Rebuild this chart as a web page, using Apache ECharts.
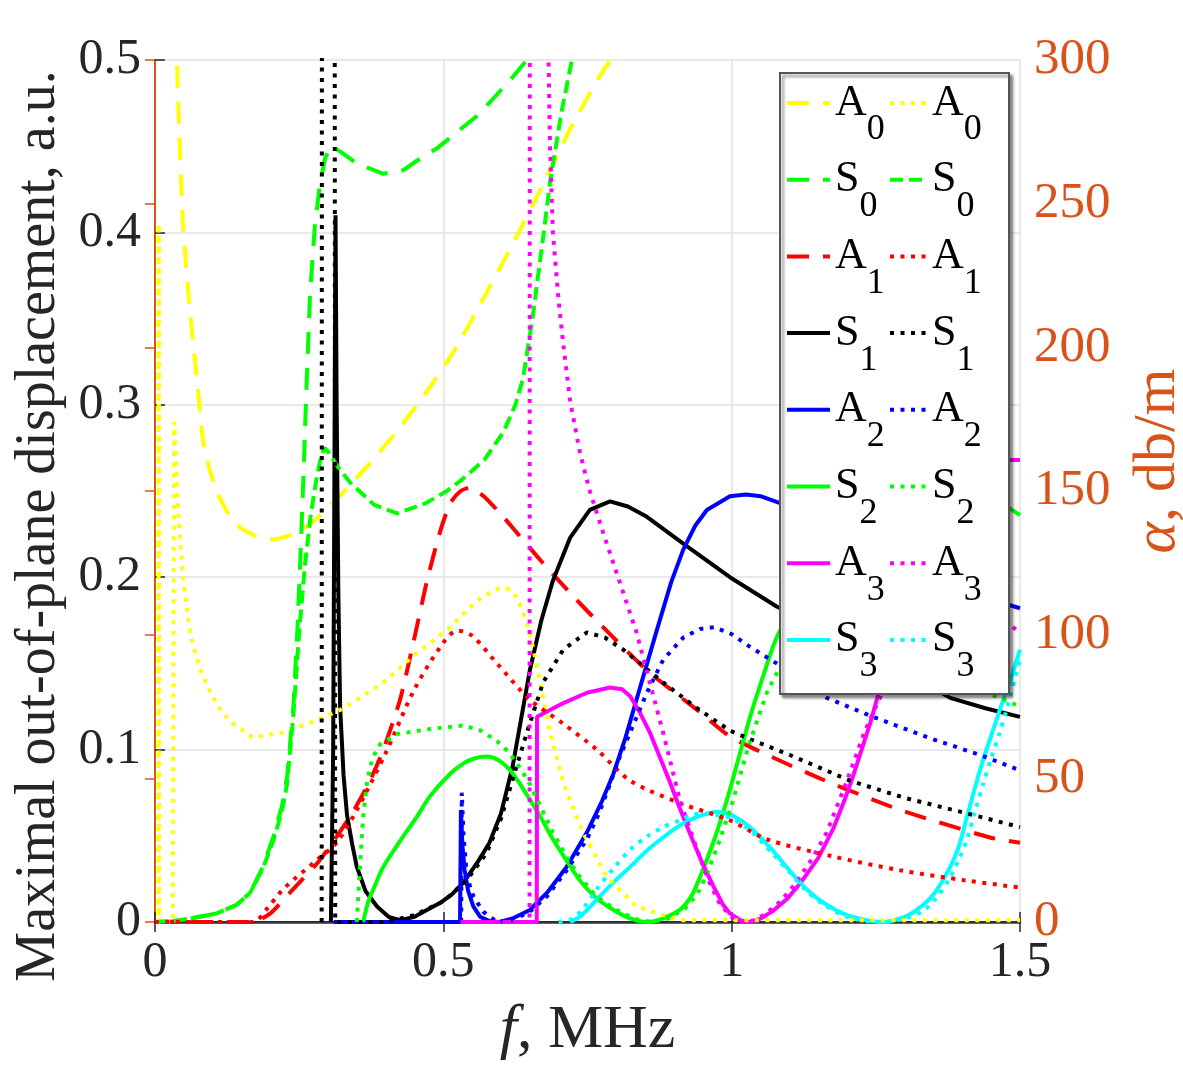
<!DOCTYPE html>
<html><head><meta charset="utf-8">
<script src="https://cdn.jsdelivr.net/npm/echarts@6/dist/echarts.min.js"></script>
<style>html,body{margin:0;padding:0;background:#fff}#c{width:1183px;height:1070px}</style>
</head><body><div id="c"></div>
<script>
const xTickLabels = ['0','0.5','1','1.5'];
const yLeftTickLabels = ['0','0.1','0.2','0.3','0.4','0.5'];
const yRightTickLabels = ['0','50','100','150','200','250','300'];

const legendLeft = ['A0','S0','A1','S1','A2','S2','A3','S3'];
const legendRight = ['A0 ','S0 ','A1 ','S1 ','A2 ','S2 ','A3 ','S3 '];

const A0_dash = [[0.033,0.58],[0.038,0.5],[0.0485,0.405],[0.061,0.353],[0.073,0.314],[0.083,0.28],[0.095,0.262],[0.107,0.25],[0.125,0.238],[0.147,0.229],[0.175,0.224],[0.205,0.222],[0.24,0.225],[0.27,0.231],[0.32,0.247],[0.37,0.265],[0.42,0.285],[0.47,0.307],[0.52,0.332],[0.57,0.362],[0.62,0.393],[0.67,0.426],[0.72,0.46],[0.77,0.49],[0.79,0.5],[0.82,0.52]];
const S0_dash = [[0,0],[0.03,0.0005],[0.061,0.002],[0.107,0.005],[0.142,0.01],[0.165,0.017],[0.187,0.032],[0.205,0.049],[0.22,0.067],[0.229,0.084],[0.24,0.125],[0.247,0.17],[0.252,0.21],[0.257,0.255],[0.263,0.313],[0.269,0.365],[0.277,0.403],[0.286,0.428],[0.295,0.443],[0.305,0.45],[0.321,0.447],[0.35,0.44],[0.396,0.434],[0.43,0.436],[0.456,0.442],[0.49,0.449],[0.523,0.458],[0.56,0.468],[0.593,0.48],[0.62,0.49],[0.645,0.5],[0.67,0.51]];
const A1_dash = [[0,0],[0.17,0],[0.2,0.005],[0.234,0.017],[0.286,0.036],[0.338,0.061],[0.37,0.08],[0.396,0.1],[0.425,0.129],[0.448,0.162],[0.471,0.197],[0.494,0.226],[0.512,0.243],[0.53,0.25],[0.546,0.252],[0.57,0.247],[0.604,0.235],[0.668,0.21],[0.725,0.189],[0.777,0.171],[0.853,0.146],[0.94,0.123],[1.0,0.107],[1.148,0.084],[1.292,0.065],[1.448,0.049],[1.5,0.046]];
const S1_solid = [[0.305,0],[0.309,0.1],[0.311,0.25],[0.313,0.41],[0.315,0.3],[0.318,0.19],[0.321,0.125],[0.327,0.085],[0.333,0.062],[0.342,0.045],[0.35,0.032],[0.365,0.018],[0.385,0.009],[0.405,0.003],[0.425,0.001],[0.45,0.003],[0.477,0.008],[0.494,0.011],[0.515,0.016],[0.535,0.023],[0.56,0.035],[0.58,0.046],[0.6,0.063],[0.62,0.09],[0.635,0.118],[0.65,0.146],[0.67,0.175],[0.69,0.198],[0.72,0.223],[0.754,0.239],[0.789,0.244],[0.82,0.241],[0.853,0.235],[0.922,0.218],[0.997,0.2],[1.078,0.183],[1.2,0.162],[1.3,0.145],[1.379,0.13],[1.44,0.124],[1.5,0.119]];
const A2_solid = [[0.31,0],[0.529,0],[0.5305,0.065],[0.533,0.045],[0.537,0.03],[0.543,0.018],[0.552,0.009],[0.564,0.003],[0.58,0.0005],[0.598,0],[0.62,0.002],[0.65,0.007],[0.68,0.017],[0.714,0.032],[0.749,0.052],[0.775,0.07],[0.795,0.086],[0.815,0.106],[0.835,0.129],[0.87,0.169],[0.895,0.197],[0.916,0.216],[0.937,0.23],[0.957,0.239],[0.997,0.247],[1.025,0.248],[1.05,0.247],[1.084,0.243],[1.2,0.224],[1.3,0.206],[1.4,0.193],[1.45,0.187],[1.5,0.182]];
const S2_solid = [[0.361,0],[0.37,0.012],[0.38,0.02],[0.396,0.032],[0.425,0.047],[0.454,0.061],[0.477,0.073],[0.512,0.086],[0.535,0.092],[0.555,0.095],[0.575,0.096],[0.595,0.094],[0.616,0.088],[0.633,0.08],[0.65,0.071],[0.67,0.06],[0.69,0.048],[0.715,0.035],[0.737,0.024],[0.765,0.014],[0.795,0.007],[0.825,0.002],[0.853,0],[0.88,0.002],[0.91,0.007],[0.93,0.015],[0.945,0.026],[0.97,0.048],[0.992,0.071],[1.012,0.095],[1.032,0.119],[1.055,0.143],[1.078,0.165],[1.15,0.21],[1.25,0.245],[1.35,0.258],[1.43,0.25],[1.5,0.236]];
const A3_solid = [[0.53,0],[0.662,0],[0.6625,0.119],[0.685,0.123],[0.708,0.127],[0.749,0.133],[0.789,0.136],[0.81,0.135],[0.824,0.131],[0.84,0.122],[0.858,0.11],[0.875,0.096],[0.893,0.081],[0.91,0.066],[0.928,0.051],[0.948,0.035],[0.968,0.021],[0.985,0.01],[0.997,0.005],[1.015,0.001],[1.032,0],[1.05,0.002],[1.07,0.006],[1.095,0.013],[1.118,0.022],[1.15,0.037],[1.176,0.054],[1.195,0.07],[1.21,0.084],[1.24,0.115],[1.26,0.139],[1.3,0.19],[1.35,0.235],[1.4,0.258],[1.45,0.268],[1.5,0.268]];
const S3_solid = [[0.72,0],[0.74,0.004],[0.766,0.013],[0.795,0.023],[0.824,0.032],[0.855,0.042],[0.881,0.049],[0.91,0.056],[0.94,0.061],[0.96,0.063],[0.975,0.064],[1.0,0.062],[1.032,0.055],[1.07,0.042],[1.1,0.03],[1.13,0.019],[1.16,0.011],[1.2,0.004],[1.263,0],[1.3,0.003],[1.321,0.007],[1.35,0.016],[1.379,0.032],[1.395,0.045],[1.408,0.061],[1.422,0.078],[1.436,0.094],[1.45,0.108],[1.465,0.123],[1.485,0.142],[1.5,0.158]];

const A0_dot = [[0,0],[0.006,0],[0.0065,0.405],[0.007,0],[0.031,0],[0.033,0.29],[0.036,0.27],[0.04,0.24],[0.045,0.215],[0.05,0.196],[0.058,0.175],[0.066,0.16],[0.08,0.145],[0.095,0.134],[0.115,0.122],[0.135,0.115],[0.17,0.107],[0.222,0.11],[0.281,0.117],[0.321,0.123],[0.36,0.131],[0.396,0.139],[0.454,0.156],[0.512,0.171],[0.535,0.179],[0.565,0.188],[0.598,0.194],[0.615,0.193],[0.628,0.188],[0.64,0.178],[0.65,0.168],[0.668,0.139],[0.685,0.11],[0.708,0.081],[0.742,0.052],[0.784,0.026],[0.835,0.009],[0.91,0.001],[1.5,0.001]];
const S0_dashdot = [[0,0],[0.03,0.0005],[0.061,0.002],[0.107,0.005],[0.142,0.01],[0.165,0.017],[0.187,0.031],[0.205,0.047],[0.22,0.064],[0.229,0.08],[0.24,0.12],[0.25,0.168],[0.26,0.207],[0.27,0.236],[0.28,0.257],[0.288,0.27],[0.294,0.275],[0.30,0.273],[0.315,0.265],[0.338,0.255],[0.38,0.242],[0.42,0.237],[0.47,0.243],[0.506,0.25],[0.53,0.256],[0.571,0.268],[0.604,0.284],[0.625,0.3],[0.638,0.315],[0.655,0.351],[0.673,0.397],[0.685,0.429],[0.705,0.47],[0.723,0.5],[0.74,0.53]];
const A1_dot = [[0,0],[0.17,0],[0.195,0.008],[0.222,0.019],[0.281,0.036],[0.315,0.046],[0.35,0.065],[0.4,0.098],[0.45,0.135],[0.5,0.162],[0.524,0.169],[0.55,0.166],[0.593,0.15],[0.65,0.129],[0.708,0.115],[0.766,0.1],[0.824,0.082],[0.91,0.069],[0.997,0.059],[1.061,0.048],[1.176,0.038],[1.292,0.03],[1.408,0.024],[1.5,0.02]];
const S1_dot = [[0.289,0],[0.2895,0.62],[0.3115,0.62],[0.3125,0],[0.4,0],[0.45,0.004],[0.5,0.012],[0.54,0.024],[0.575,0.04],[0.6,0.06],[0.625,0.088],[0.645,0.11],[0.673,0.139],[0.708,0.158],[0.749,0.168],[0.78,0.165],[0.812,0.158],[0.881,0.139],[0.94,0.124],[0.997,0.111],[1.032,0.106],[1.1,0.097],[1.205,0.082],[1.3,0.072],[1.408,0.063],[1.5,0.055]];
const A2_dot = [[0.531,0],[0.532,0.075],[0.535,0.05],[0.54,0.03],[0.546,0.021],[0.552,0.015],[0.569,0.006],[0.593,0],[0.62,0.001],[0.65,0.006],[0.68,0.015],[0.714,0.03],[0.749,0.048],[0.77,0.063],[0.789,0.08],[0.805,0.095],[0.824,0.11],[0.853,0.133],[0.881,0.152],[0.916,0.165],[0.945,0.17],[0.97,0.171],[1.0,0.167],[1.03,0.16],[1.078,0.15],[1.165,0.13],[1.245,0.119],[1.349,0.106],[1.43,0.097],[1.5,0.088]];
const S2_dot = [[0.35,0],[0.355,0.03],[0.361,0.061],[0.368,0.082],[0.377,0.095],[0.39,0.103],[0.42,0.109],[0.477,0.112],[0.535,0.114],[0.565,0.111],[0.593,0.105],[0.612,0.099],[0.628,0.092],[0.65,0.08],[0.67,0.066],[0.69,0.052],[0.715,0.037],[0.737,0.026],[0.765,0.015],[0.795,0.008],[0.83,0.002],[0.86,0],[0.89,0.002],[0.92,0.008],[0.94,0.016],[0.955,0.026],[0.98,0.048],[1.002,0.07],[1.03,0.103],[1.061,0.133],[1.09,0.152],[1.15,0.17],[1.22,0.176],[1.3,0.168],[1.4,0.145],[1.45,0.132],[1.5,0.125]];
const A3_dot = [[0.53,0],[0.6495,0],[0.65,0.62],[0.681,0.62],[0.6815,0.52],[0.685,0.45],[0.69,0.4],[0.70,0.36],[0.708,0.335],[0.72,0.302],[0.737,0.272],[0.754,0.25],[0.777,0.226],[0.806,0.197],[0.835,0.168],[0.858,0.139],[0.881,0.11],[0.91,0.071],[0.94,0.042],[0.96,0.024],[0.98,0.01],[1.0,0.003],[1.02,0],[1.04,0.001],[1.06,0.005],[1.085,0.012],[1.11,0.022],[1.14,0.037],[1.165,0.052],[1.2,0.082],[1.23,0.11],[1.257,0.13],[1.3,0.165],[1.35,0.185],[1.4,0.188],[1.45,0.18],[1.5,0.168]];
const S3_dot = [[0.70,0],[0.725,0.002],[0.745,0.009],[0.766,0.019],[0.795,0.031],[0.824,0.042],[0.855,0.05],[0.881,0.055],[0.91,0.059],[0.93,0.062],[0.95,0.063],[0.975,0.062],[1.0,0.06],[1.032,0.053],[1.07,0.04],[1.1,0.029],[1.13,0.018],[1.16,0.01],[1.2,0.003],[1.26,0],[1.3,0.002],[1.33,0.006],[1.355,0.014],[1.379,0.026],[1.395,0.037],[1.408,0.048],[1.422,0.064],[1.436,0.08],[1.45,0.095],[1.465,0.11],[1.485,0.133],[1.5,0.152]];

const YEL='#FFFF00', GRN='#00FF00', RED='#FF0000', BLK='#000000', BLU='#0000FF', MAG='#FF00FF', CYN='#00FFFF';
const DASH=[22,14], DOT=[4,6.5], DASH2=[13,6], SOLID='solid';
const ORANGE='#D95319', AX='#262626', SERIF='"Liberation Serif","Times New Roman",serif';

const defs = [
  ['A0', A0_dash, YEL, DASH, 0.2],
  ['S0', S0_dash, GRN, DASH, 0],
  ['A1', A1_dash, RED, DASH, 0.2],
  ['S1', S1_solid, BLK, SOLID, 0],
  ['A2', A2_solid, BLU, SOLID, 0],
  ['S2', S2_solid, GRN, SOLID, 0.3],
  ['A3', A3_solid, MAG, SOLID, 0],
  ['S3', S3_solid, CYN, SOLID, 0.3],
  ['A0 ', A0_dot, YEL, DOT, 0],
  ['S0 ', S0_dashdot, GRN, DASH2, 0],
  ['A1 ', A1_dot, RED, DOT, 0.3],
  ['S1 ', S1_dot, BLK, DOT, 0],
  ['A2 ', A2_dot, BLU, DOT, 0],
  ['S2 ', S2_dot, GRN, DOT, 0],
  ['A3 ', A3_dot, MAG, DOT, 0],
  ['S3 ', S3_dot, CYN, DOT, 0.3]
];

const series = defs.map(d => ({
  name: d[0], type: 'line', data: d[1], xAxisIndex: 0, yAxisIndex: 0,
  symbol: 'none', showSymbol: false, smooth: d[4] > 0 ? d[4] : false, clip: true,
  color: d[2],
  lineStyle: { color: d[2], width: 4, type: d[3], cap: 'butt' },
  emphasis: { disabled: true }, z: 2
}));

const legendFmt = n => { const t = n.trim(); return '{a|' + t[0] + '}{s|' + t[1] + '}'; };
const legendRich = {
  a: { fontSize: 44, lineHeight: 44, fontFamily: SERIF, color: '#000', verticalAlign: 'top' },
  s: { fontSize: 36, lineHeight: 36, fontFamily: SERIF, color: '#000', verticalAlign: 'top', padding: [31, 0, 0, 0] }
};
function mkLegend(names, left, iw) {
  return {
    data: names, orient: 'vertical', left: left, top: 81, padding: 0,
    itemWidth: iw, itemHeight: 14, itemGap: 9.7, selectedMode: false,
    formatter: legendFmt, textStyle: { rich: legendRich, fontFamily: SERIF },
    itemStyle: { opacity: 0, borderWidth: 0 },
    lineStyle: { width: 4 }, z: 5
  };
}

const chart = echarts.init(document.getElementById('c'), null, { renderer: 'canvas' });
chart.setOption({
  animation: false,
  backgroundColor: '#fff',
  grid: { left: 155, right: 163, top: 60, bottom: 148, containLabel: false, outerBoundsMode: 'none' },
  xAxis: [
    { type: 'value', min: 0, max: 1.5, interval: 0.5, position: 'bottom',
      axisLine: { show: true, lineStyle: { color: AX, width: 2 } },
      axisTick: { show: true, inside: true, length: 10, lineStyle: { color: AX, width: 1.5 } },
      axisLabel: { fontSize: 50, fontFamily: SERIF, color: AX, margin: 16,
        formatter: v => xTickLabels[Math.round(v / 0.5)] },
      splitLine: { show: true, lineStyle: { color: '#e2e2e2', width: 1.5 } },
      name: '{i|f}, MHz', nameLocation: 'middle', nameGap: 78,
      nameTextStyle: { fontSize: 62, fontFamily: SERIF, color: AX,
        rich: { i: { fontSize: 62, fontFamily: SERIF, fontStyle: 'italic', color: AX } } } },
    { type: 'value', min: 0, max: 1.5, interval: 0.5, position: 'top',
      axisLine: { show: true, lineStyle: { color: '#333333', width: 2.5 } },
      axisTick: { show: true, inside: true, length: 10, lineStyle: { color: AX, width: 1.5 } },
      axisLabel: { show: false }, splitLine: { show: false } }
  ],
  yAxis: [
    { type: 'value', min: 0, max: 0.5, interval: 0.1, position: 'left',
      axisLine: { show: true, lineStyle: { color: AX, width: 2 } },
      axisTick: { show: true, inside: true, length: 10, lineStyle: { color: AX, width: 1.5 } },
      axisLabel: { fontSize: 50, fontFamily: SERIF, color: AX, margin: 14,
        formatter: v => yLeftTickLabels[Math.round(v / 0.1)] },
      splitLine: { show: true, lineStyle: { color: '#e2e2e2', width: 1.5 } },
      name: 'Maximal out-of-plane displacement, a.u.', nameLocation: 'middle', nameGap: 82, nameRotate: 90,
      nameTextStyle: { fontSize: 56, fontFamily: SERIF, color: AX, padding: [0, 70, 0, 0] } },
    { type: 'value', min: 0, max: 300, interval: 50, position: 'right',
      axisLine: { show: true, lineStyle: { color: ORANGE, width: 2 } },
      axisTick: { show: true, inside: true, length: 10, lineStyle: { color: ORANGE, width: 1.5 } },
      axisLabel: { fontSize: 51, fontFamily: SERIF, color: ORANGE, margin: 14,
        formatter: v => yRightTickLabels[Math.round(v / 50)] },
      splitLine: { show: false },
      name: '{i|α}, db/m', nameLocation: 'middle', nameGap: 108, nameRotate: 90,
      nameTextStyle: { fontSize: 60, fontFamily: SERIF, color: ORANGE, padding: [0, 0, 0, 60],
        rich: { i: { fontSize: 60, fontFamily: SERIF, fontStyle: 'italic', color: ORANGE } } } }
  ],
  legend: [ mkLegend(legendLeft, 785, 43), mkLegend(legendRight, 888, 37) ],
  graphic: { elements: [
    { type: 'rect', left: 779, top: 72, z: 3, zlevel: 0,
      shape: { width: 229, height: 621 },
      style: { fill: '#fff', stroke: '#555', lineWidth: 2,
        shadowBlur: 3, shadowOffsetX: 3, shadowOffsetY: 3, shadowColor: 'rgba(0,0,0,0.45)' } }
  ] },
  series: series
});
</script></body></html>
